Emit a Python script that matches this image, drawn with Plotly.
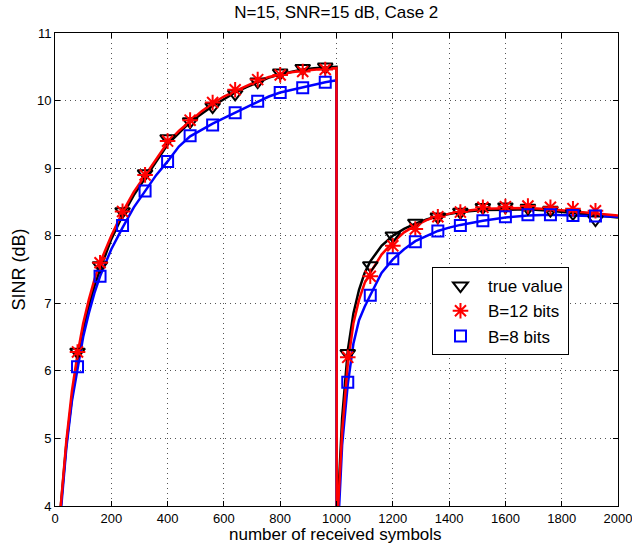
import plotly.graph_objects as go

# ---- line data (dense curves) ----
line_x = [10, 20, 40, 60, 80, 100, 120, 140, 160, 200, 240, 280, 320, 360, 400, 440, 480, 520,
          560, 600, 640, 680, 720, 760, 800, 840, 880, 920, 960, 1000,
          1001, 1006, 1020, 1040, 1060, 1080, 1100, 1120, 1160, 1200, 1240, 1280, 1320, 1360,
          1400, 1440, 1520, 1600, 1680, 1760, 1840, 1920, 2000]
true_line = [3.5, 4.0, 4.9, 5.6, 6.15, 6.6, 6.95, 7.25, 7.5, 7.95, 8.3, 8.6, 8.85, 9.1, 9.35, 9.52, 9.68, 9.8,
             9.92, 10.02, 10.12, 10.2, 10.27, 10.34, 10.39, 10.43, 10.46, 10.48, 10.49, 10.5,
             3.0, 4.1, 5.3, 6.3, 6.85, 7.2, 7.45, 7.62, 7.85, 8.0, 8.1, 8.18, 8.24, 8.29,
             8.32, 8.35, 8.38, 8.39, 8.39, 8.37, 8.34, 8.3, 8.27]
b12_line = [3.5, 4.0, 4.95, 5.7, 6.25, 6.7, 7.05, 7.35, 7.6, 8.0, 8.35, 8.65, 8.9, 9.15, 9.38, 9.55, 9.7, 9.84,
            9.96, 10.06, 10.14, 10.22, 10.29, 10.35, 10.39, 10.42, 10.44, 10.46, 10.47, 10.48,
            3.0, 4.0, 5.1, 6.1, 6.7, 7.05, 7.3, 7.45, 7.72, 7.9, 8.05, 8.15, 8.23, 8.29,
            8.33, 8.36, 8.4, 8.41, 8.41, 8.39, 8.36, 8.32, 8.3]
b8_line = [3.4, 3.9, 4.85, 5.55, 6.05, 6.5, 6.85, 7.15, 7.4, 7.8, 8.12, 8.42, 8.66, 8.9, 9.1, 9.32, 9.47, 9.57,
           9.66, 9.74, 9.82, 9.91, 9.99, 10.06, 10.12, 10.16, 10.19, 10.23, 10.27, 10.3,
           2.5, 3.7, 4.9, 5.8, 6.4, 6.75, 6.95, 7.12, 7.45, 7.65, 7.8, 7.92, 8.0, 8.07,
           8.12, 8.16, 8.22, 8.27, 8.3, 8.31, 8.3, 8.29, 8.28]

# ---- marker data ----
mark_x = [80, 160, 240, 320, 400, 480, 560, 640, 720, 800, 880, 960,
          1040, 1120, 1200, 1280, 1360, 1440, 1520, 1600, 1680, 1760, 1840, 1920]
true_mark = [6.28, 7.56, 8.36, 8.92, 9.44, 9.69, 9.91, 10.1, 10.28, 10.41, 10.48, 10.5,
             6.26, 7.56, 8.0, 8.19, 8.28, 8.35, 8.42, 8.43, 8.41, 8.38, 8.33, 8.24]
b12_mark = [6.28, 7.6, 8.36, 8.9, 9.4, 9.71, 9.97, 10.16, 10.31, 10.38, 10.43, 10.46,
            6.2, 7.4, 7.85, 8.1, 8.28, 8.35, 8.42, 8.43, 8.44, 8.42, 8.4, 8.37]
b8_mark = [6.06, 7.4, 8.15, 8.66, 9.1, 9.48, 9.64, 9.82, 9.99, 10.12, 10.19, 10.27,
           5.83, 7.12, 7.66, 7.91, 8.07, 8.15, 8.22, 8.28, 8.31, 8.31, 8.3, 8.29]

x_ticks = [0, 200, 400, 600, 800, 1000, 1200, 1400, 1600, 1800, 2000]
y_ticks = [4, 5, 6, 7, 8, 9, 10, 11]

FONT = "Liberation Sans, Arial, Helvetica, sans-serif"

fig = go.Figure()
fig.add_trace(go.Scatter(x=line_x, y=true_line, mode="lines", line=dict(color="black", width=2.5),
                         showlegend=False, hoverinfo="skip"))
fig.add_trace(go.Scatter(x=line_x, y=b8_line, mode="lines", line=dict(color="#0000ff", width=2.5),
                         showlegend=False, hoverinfo="skip"))
fig.add_trace(go.Scatter(x=line_x, y=b12_line, mode="lines", line=dict(color="#ff0000", width=2.5),
                         showlegend=False, hoverinfo="skip"))
fig.add_trace(go.Scatter(x=mark_x, y=true_mark, mode="markers", name="true value",
                         marker=dict(symbol="triangle-down-open", size=13, color="black",
                                     line=dict(width=2, color="black"))))
fig.add_trace(go.Scatter(x=mark_x, y=b12_mark, mode="markers", name="B=12 bits",
                         marker=dict(symbol="asterisk-open", size=13, color="#ff0000",
                                     line=dict(width=2, color="#ff0000"))))
fig.add_trace(go.Scatter(x=mark_x, y=b8_mark, mode="markers", name="B=8 bits",
                         marker=dict(symbol="square-open", size=11, color="#0000ff",
                                     line=dict(width=2, color="#0000ff"))))

axis_common = dict(showline=True, linecolor="black", linewidth=1, mirror="ticks",
                   ticks="inside", ticklen=5, tickcolor="black", automargin=False,
                   showgrid=True, gridcolor="#555555", gridwidth=1, griddash="1px,4px",
                   zeroline=False, ticklabeloverflow="allow",
                   tickfont=dict(family=FONT, size=13, color="black"))

fig.update_layout(
    width=632, height=546,
    margin=dict(l=55, r=14, t=33, b=40),
    paper_bgcolor="white", plot_bgcolor="white",
    title=dict(text="N=15, SNR=15 dB, Case 2", x=0.532, xanchor="center", y=0.978, yanchor="middle",
               font=dict(family=FONT, size=17, color="black")),
    xaxis=dict(range=[0, 2000], tickvals=x_ticks, ticktext=[str(v) for v in x_ticks],
               ticklabelstandoff=0, **axis_common),
    yaxis=dict(range=[4, 11], tickvals=y_ticks, ticktext=[str(v) for v in y_ticks],
               title=dict(text="SINR (dB)", standoff=6,
                          font=dict(family=FONT, size=18, color="black")),
               **axis_common),
    legend=dict(x=0.6696, y=0.505, xanchor="left", yanchor="top",
                bgcolor="white", bordercolor="black", borderwidth=1,
                font=dict(family=FONT, size=17, color="black"), itemwidth=45),
    showlegend=True,
    annotations=[dict(text="number of received symbols", xref="paper", yref="paper",
                      x=0.499, y=-0.0835, xanchor="center", yanchor="bottom", showarrow=False,
                      borderpad=0, font=dict(family=FONT, size=17, color="black"))],
)

fig.write_html("out.html")
